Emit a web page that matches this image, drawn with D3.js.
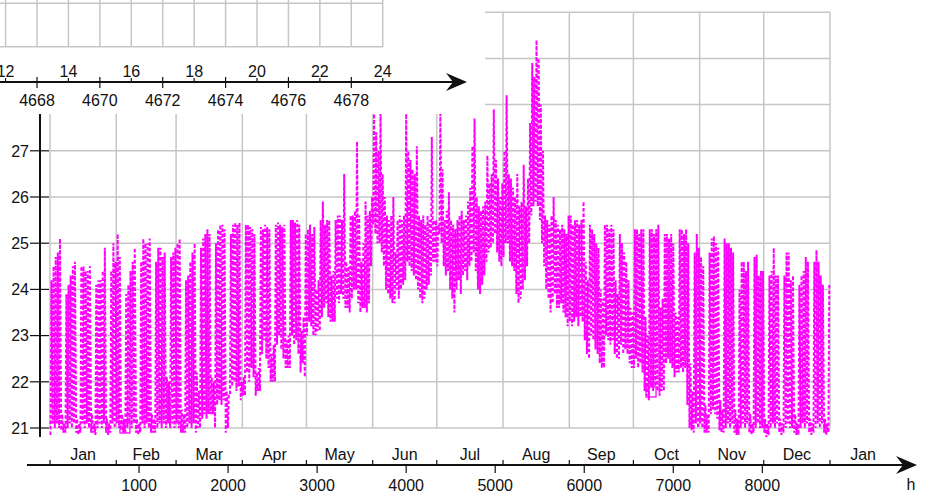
<!DOCTYPE html>
<html>
<head>
<meta charset="utf-8">
<script src="https://cdn.jsdelivr.net/npm/d3@7/dist/d3.min.js"></script>
<style>
  body { margin: 0; background: #fff; }
  svg { display: block; font-family: "Liberation Sans", Arial, sans-serif; }
</style>
</head>
<body>
<svg id="chart" width="930" height="495"></svg>
<script>
// daily minimum temperature, one row per week (Mon .. Sun), day 0 = 1 Jan
const dayLow = [
  20.85, 21.1, 21.0, 21.1, 21.0, 20.95, 20.9,
  20.9, 21.0, 21.1, 21.0, 21.1, 20.9, 20.85,
  20.9, 21.1, 21.0, 21.1, 21.0, 20.9, 20.9,
  20.85, 21.0, 21.1, 21.0, 21.1, 20.9, 20.85,
  20.9, 21.1, 21.0, 21.1, 21.0, 20.95, 20.9,
  20.9, 21.0, 21.1, 21.0, 21.1, 20.9, 20.85,
  20.9, 21.1, 21.0, 21.1, 21.0, 20.9, 20.9,
  20.9, 21.0, 21.1, 21.0, 21.1, 21.0, 21.1,
  21.0, 21.1, 21.0, 21.1, 21.0, 20.9, 20.9,
  20.9, 21.0, 21.1, 21.0, 21.1, 20.9, 21.0,
  21.0, 21.2, 21.3, 21.2, 21.3, 21.3, 21.3,
  21.0, 21.5, 21.6, 21.5, 21.6, 20.9, 21.0,
  21.7, 21.9, 22.0, 21.8, 21.9, 21.6, 21.7,
  21.7, 22.2, 22.0, 22.3, 22.1, 21.7, 21.8,
  21.8, 22.6, 22.9, 22.5, 22.3, 22.0, 22.0,
  22.0, 22.8, 23.0, 22.7, 22.5, 22.3, 22.3,
  22.3, 23.0, 22.8, 22.9, 22.6, 22.2, 22.4,
  22.1, 23.0, 23.3, 23.2, 23.0, 23.0, 23.1,
  23.1, 23.4, 23.6, 23.7, 23.4, 23.3, 23.3,
  23.3, 23.8, 23.7, 23.9, 23.8, 23.6, 23.6,
  23.5, 23.8, 24.0, 24.0, 23.7, 23.5, 23.6,
  23.6, 23.5, 23.7, 24.5, 25.4, 25.2, 25.0,
  25.0, 24.8, 24.5, 24.0, 23.9, 23.8, 23.7,
  23.7, 24.0, 23.8, 24.0, 24.1, 24.2, 24.6,
  24.5, 24.4, 24.3, 24.2, 24.0, 23.8, 23.7,
  23.8, 24.0, 24.1, 24.3, 24.6, 24.6, 24.5,
  25.2, 25.0, 24.5, 24.3, 24.4, 24.0, 23.8,
  23.5, 24.0, 24.2, 23.9, 24.3, 24.4, 24.2,
  24.5, 24.6, 24.8, 24.4, 24.0, 23.9, 24.1,
  24.3, 24.6, 24.8, 24.9, 25.0, 25.2, 24.8,
  24.6, 24.5, 24.7, 25.0, 25.0, 24.6, 24.5,
  24.4, 23.9, 23.7, 23.8, 24.0, 24.2, 24.5,
  25.0, 25.6, 25.8, 25.9, 25.8, 25.5, 25.0,
  24.5, 24.0, 23.8, 23.5, 23.7, 23.9, 23.6,
  23.6, 23.7, 23.5, 23.4, 23.2, 23.3, 23.2,
  23.3, 23.4, 23.2, 23.4, 23.3, 22.9, 22.6,
  22.5, 23.0, 22.9, 22.7, 22.6, 22.4, 22.3,
  22.3, 23.0, 22.9, 22.8, 22.9, 22.6, 22.5,
  22.5, 22.8, 22.6, 22.7, 22.6, 22.4, 22.3,
  22.3, 22.5, 22.3, 22.4, 22.2, 21.8, 21.7,
  21.6, 21.9, 21.8, 21.9, 21.8, 21.7, 21.8,
  21.8, 22.4, 22.5, 22.4, 22.3, 22.1, 22.2,
  22.2, 22.3, 22.2, 22.3, 21.5, 21.0, 20.95,
  20.9, 21.1, 21.0, 21.1, 21.0, 20.9, 20.9,
  20.9, 21.3, 21.4, 21.3, 21.2, 20.95, 20.9,
  20.9, 21.0, 21.1, 21.0, 21.1, 20.9, 20.85,
  20.85, 21.0, 21.1, 21.0, 21.1, 20.9, 20.85,
  20.9, 21.0, 21.1, 21.0, 21.0, 20.9, 20.8,
  20.85, 21.0, 21.1, 21.0, 21.1, 20.9, 20.85,
  20.9, 21.0, 21.1, 21.0, 21.0, 20.9, 20.85,
  20.85, 21.0, 21.1, 21.0, 21.1, 20.9, 20.85,
  20.9, 21.0, 21.1, 21.0, 21.1, 20.9, 20.85,
  20.9
];

// daily maximum temperature, same layout
const dayHigh = [
  24.2, 24.5, 24.7, 24.8, 25.1, 21.3, 21.1,
  23.9, 24.1, 24.3, 24.5, 24.6, 21.2, 21.1,
  24.5, 24.5, 24.4, 24.4, 24.5, 21.3, 21.1,
  24.1, 24.2, 24.2, 24.4, 24.9, 21.2, 21.1,
  24.4, 25.0, 24.6, 25.2, 24.7, 21.3, 21.2,
  23.9, 24.1, 24.4, 24.6, 24.9, 21.2, 21.1,
  24.6, 25.1, 25.0, 25.0, 25.1, 21.3, 21.2,
  24.6, 24.9, 24.9, 24.7, 24.8, 22.1, 22.0,
  24.7, 24.8, 24.9, 25.0, 25.1, 21.4, 21.3,
  24.2, 24.3, 24.6, 24.8, 25.0, 22.2, 21.8,
  24.9, 25.1, 25.2, 25.3, 25.2, 22.1, 22.0,
  25.0, 25.3, 25.4, 25.4, 25.3, 21.8, 21.7,
  25.2, 25.4, 25.45, 25.4, 25.45, 22.0, 22.1,
  25.4, 25.4, 25.35, 25.3, 25.2, 22.2, 22.3,
  25.35, 25.3, 25.4, 25.35, 25.3, 22.6, 22.8,
  25.4, 25.45, 25.4, 25.35, 25.4, 22.9, 23.0,
  25.5, 25.5, 25.45, 25.5, 25.4, 23.1, 23.4,
  25.2, 25.3, 25.4, 25.2, 25.35, 24.0, 24.2,
  25.5, 25.9, 25.4, 25.5, 25.5, 24.3, 24.4,
  25.5, 25.6, 25.6, 25.5, 26.5, 24.6, 24.5,
  25.6, 25.6, 25.7, 27.2, 25.6, 24.6, 25.0,
  25.9, 25.6, 25.7, 26.0, 27.8, 27.4, 27.0,
  27.8, 26.5, 26.0, 25.6, 25.5, 25.6, 26.0,
  24.8, 25.5, 25.6, 25.5, 25.6, 27.8, 27.0,
  26.8, 26.6, 26.5, 27.1, 25.6, 25.5, 25.6,
  25.4, 25.6, 25.5, 27.3, 25.5, 25.5, 25.4,
  27.8, 26.6, 25.5, 25.7, 26.1, 25.5, 25.4,
  25.3, 25.5, 25.6, 25.7, 25.5, 25.6, 25.9,
  26.2, 27.1, 27.7, 26.0, 25.8, 25.7, 25.8,
  25.9, 26.9, 26.3, 26.5, 27.9, 26.8, 26.4,
  26.0, 26.3, 27.0, 28.2, 26.5, 26.4, 26.2,
  26.0, 26.5, 25.8, 25.9, 26.7, 25.8, 26.4,
  27.6, 28.9, 28.6, 29.4, 29.0, 28.0, 27.0,
  25.6, 25.5, 25.4, 25.6, 26.0, 25.5, 25.4,
  25.3, 25.4, 25.3, 25.2, 25.6, 25.6, 25.4,
  25.5, 25.5, 25.4, 25.5, 25.9, 24.6, 24.2,
  25.4, 25.3, 25.2, 25.0, 24.9, 24.0, 23.8,
  25.4, 25.4, 25.3, 25.4, 25.3, 24.2, 23.9,
  25.2, 25.0, 24.8, 24.6, 24.2, 23.6, 23.5,
  25.3, 25.3, 25.2, 25.3, 25.3, 23.4, 23.0,
  25.3, 25.3, 25.2, 25.3, 25.4, 23.6, 23.8,
  25.2, 25.2, 25.1, 25.2, 25.0, 23.5, 23.4,
  25.3, 25.3, 25.2, 25.3, 25.0, 22.4, 21.8,
  24.8, 25.2, 24.9, 24.7, 24.5, 21.5, 21.3,
  24.8, 25.1, 25.15, 25.0, 24.9, 21.6, 21.4,
  25.1, 25.0, 25.0, 24.9, 24.8, 21.4, 21.2,
  24.0, 24.6, 24.6, 24.4, 24.6, 21.3, 21.1,
  24.7, 24.75, 24.3, 24.4, 24.4, 21.2, 21.1,
  24.3, 24.4, 24.9, 24.3, 24.3, 21.2, 21.1,
  24.3, 24.8, 24.8, 24.2, 24.3, 21.3, 21.1,
  24.1, 24.3, 24.4, 24.7, 24.6, 21.2, 21.1,
  24.6, 24.85, 24.6, 24.3, 24.1, 21.2, 21.1,
  24.1
];

const monthNames = ['Jan', 'Feb', 'Mar', 'Apr', 'May', 'Jun', 'Jul', 'Aug', 'Sep', 'Oct', 'Nov', 'Dec', 'Jan'];
const monthStarts = [0, 744, 1416, 2160, 2880, 3624, 4344, 5088, 5832, 6552, 7296, 8016, 8760, 9504];
const hourTicks = [1000, 2000, 3000, 4000, 5000, 6000, 7000, 8000];
const tempTicks = [21, 22, 23, 24, 25, 26, 27, 28, 29, 30];
const tempLabels = [21, 22, 23, 24, 25, 26, 27]; // the rest sit under the zoom panel
const markerHours = [842, 6750];
const markerTemps = [21.0, 21.78];

// the zoomed panel lying on top (hour 4667 .. 4679)
const zoomHourTicks = [4668, 4670, 4672, 4674, 4676, 4678];
const zoomGridHours = [4667, 4668, 4669, 4670, 4671, 4672, 4673, 4674, 4675, 4676, 4677, 4678, 4679];
const clockHours = [4667, 4669, 4671, 4673, 4675, 4677, 4679];
const clockLabels = ['12', '14', '16', '18', '20', '22', '24'];

const svg = d3.select('#chart');
const gridColor = '#c6c6c6';
const ink = '#111';

const x = d3.scaleLinear().domain([0, 8760]).range([50, 830]);
const y = d3.scaleLinear().domain([21, 30]).range([428, 12.2]);

// grid
const grid = svg.append('g');
grid.selectAll('line.h')
  .data(tempTicks)
  .enter().append('line')
  .attr('x1', x(0)).attr('x2', x(8760))
  .attr('y1', d => y(d)).attr('y2', d => y(d))
  .attr('stroke', gridColor).attr('stroke-width', 1.5);
grid.selectAll('line.v')
  .data(monthStarts.slice(0, 13))
  .enter().append('line')
  .attr('x1', d => x(d)).attr('x2', d => x(d))
  .attr('y1', y(21)).attr('y2', y(30))
  .attr('stroke', gridColor).attr('stroke-width', 1.5);

// data: low in the morning, high in the afternoon of every day
const points = [];
dayLow.forEach((low, d) => {
  points.push({ h: d * 24 + 6, t: low });
  points.push({ h: d * 24 + 16, t: dayHigh[d] });
});

const line = d3.line()
  .x(d => x(d.h))
  .y(d => y(d.t));

svg.append('path')
  .datum(points)
  .attr('d', line)
  .attr('fill', 'none')
  .attr('stroke', '#ff00ff')
  .attr('stroke-width', 2)
  .attr('stroke-dasharray', '3.5,2');

svg.selectAll('rect.marker')
  .data(markerHours)
  .enter().append('rect')
  .attr('x', (d) => x(d) - 5)
  .attr('y', (d, i) => y(markerTemps[i]) - 5)
  .attr('width', 10).attr('height', 10)
  .attr('fill', 'none')
  .attr('stroke', '#ff00ff')
  .attr('stroke-width', 1.3);

// y axis
svg.append('line')
  .attr('x1', 40).attr('x2', 40)
  .attr('y1', y(30)).attr('y2', 437)
  .attr('stroke', ink).attr('stroke-width', 2);
svg.selectAll('line.ytick')
  .data(tempTicks)
  .enter().append('line')
  .attr('x1', 30).attr('x2', 49)
  .attr('y1', d => y(d)).attr('y2', d => y(d))
  .attr('stroke', ink).attr('stroke-width', 1.2);
svg.selectAll('text.ylab')
  .data(tempLabels)
  .enter().append('text')
  .attr('x', 29)
  .attr('y', d => y(d))
  .attr('dy', '0.36em')
  .attr('text-anchor', 'end')
  .attr('font-size', 16)
  .attr('fill', ink)
  .text(d => d);

// x axis with arrow
const axisY = 465;
function arrowAxis(g, x0, tip, yy) {
  g.append('line')
    .attr('x1', x0).attr('x2', tip - 6)
    .attr('y1', yy).attr('y2', yy)
    .attr('stroke', ink).attr('stroke-width', 2);
  g.append('path')
    .attr('d', `M${tip},${yy} L${tip - 21},${yy - 9} L${tip - 14},${yy} L${tip - 21},${yy + 9} Z`)
    .attr('fill', ink);
}
arrowAxis(svg, 27, 917, axisY);

svg.selectAll('line.mtick')
  .data(monthStarts.slice(0, 13))
  .enter().append('line')
  .attr('x1', d => x(d)).attr('x2', d => x(d))
  .attr('y1', axisY - 5).attr('y2', axisY)
  .attr('stroke', ink).attr('stroke-width', 1.2);
svg.selectAll('text.mlab')
  .data(monthNames)
  .enter().append('text')
  .attr('x', (d, i) => x((monthStarts[i] + monthStarts[i + 1]) / 2))
  .attr('y', 460)
  .attr('text-anchor', 'middle')
  .attr('font-size', 16)
  .attr('fill', ink)
  .text(d => d);

svg.selectAll('line.htick')
  .data(hourTicks)
  .enter().append('line')
  .attr('x1', d => x(d)).attr('x2', d => x(d))
  .attr('y1', axisY).attr('y2', axisY + 8)
  .attr('stroke', ink).attr('stroke-width', 1.2);
svg.selectAll('text.hlab')
  .data(hourTicks)
  .enter().append('text')
  .attr('x', d => x(d))
  .attr('y', 491)
  .attr('text-anchor', 'middle')
  .attr('font-size', 16)
  .attr('fill', ink)
  .text(d => d);
svg.append('text')
  .attr('x', 911).attr('y', 490)
  .attr('text-anchor', 'middle')
  .attr('font-size', 16)
  .attr('fill', ink)
  .text('h');

// overlapping zoom panel (top left), drawn last so it covers the main chart
const zx = d3.scaleLinear().domain([4668, 4678]).range([37, 351.3]);
const panel = svg.append('g');
panel.append('rect')
  .attr('x', 0).attr('y', 0)
  .attr('width', 485).attr('height', 114)
  .attr('fill', '#fff');
panel.selectAll('line.zv')
  .data(zoomGridHours)
  .enter().append('line')
  .attr('x1', d => zx(d)).attr('x2', d => zx(d))
  .attr('y1', 0).attr('y2', 47)
  .attr('stroke', gridColor).attr('stroke-width', 1.5);
panel.selectAll('line.zh')
  .data([3.3, 46.7])
  .enter().append('line')
  .attr('x1', 0).attr('x2', zx(4679))
  .attr('y1', d => d).attr('y2', d => d)
  .attr('stroke', gridColor).attr('stroke-width', 1.5);

const zAxisY = 82;
arrowAxis(panel, 0, 467, zAxisY);
panel.selectAll('line.ztick')
  .data(zoomHourTicks)
  .enter().append('line')
  .attr('x1', d => zx(d)).attr('x2', d => zx(d))
  .attr('y1', zAxisY - 5).attr('y2', zAxisY + 6)
  .attr('stroke', ink).attr('stroke-width', 1.2);
panel.selectAll('text.zlab')
  .data(zoomHourTicks)
  .enter().append('text')
  .attr('x', d => zx(d))
  .attr('y', 106)
  .attr('text-anchor', 'middle')
  .attr('font-size', 16)
  .attr('fill', ink)
  .text(d => d);
panel.selectAll('line.ctick')
  .data(clockHours)
  .enter().append('line')
  .attr('x1', d => zx(d)).attr('x2', d => zx(d))
  .attr('y1', zAxisY - 4).attr('y2', zAxisY)
  .attr('stroke', ink).attr('stroke-width', 1.2);
panel.selectAll('text.clab')
  .data(clockLabels)
  .enter().append('text')
  .attr('x', (d, i) => zx(clockHours[i]))
  .attr('y', 77)
  .attr('text-anchor', 'middle')
  .attr('font-size', 16)
  .attr('fill', ink)
  .text(d => d);
</script>
</body>
</html>
